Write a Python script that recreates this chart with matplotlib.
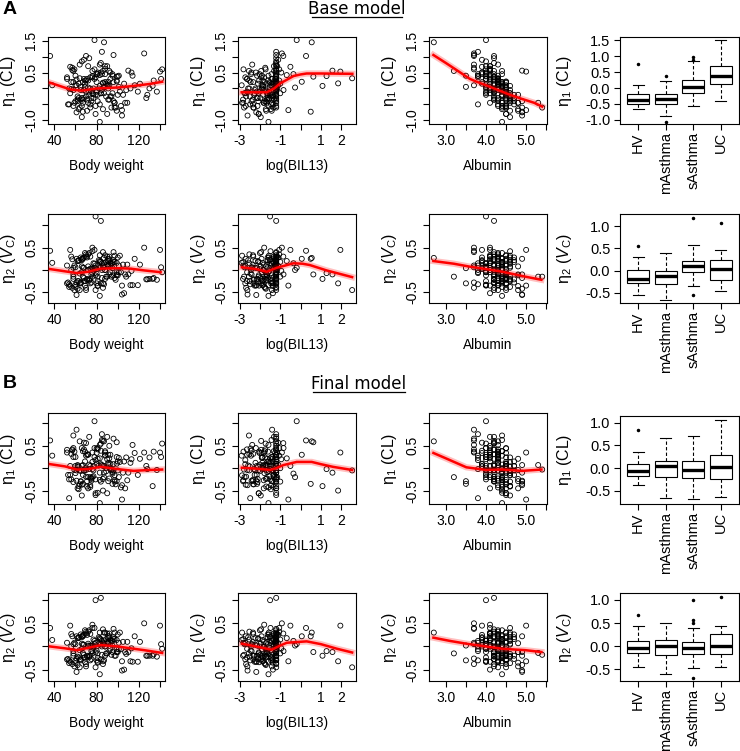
import numpy as np
import matplotlib
matplotlib.use("Agg")
import matplotlib.pyplot as plt
from matplotlib.lines import Line2D

plt.rcParams['font.family'] = ['Liberation Sans', 'DejaVu Sans']
plt.rcParams['mathtext.fontset'] = 'custom'
plt.rcParams['mathtext.rm'] = 'Liberation Sans'
plt.rcParams['mathtext.it'] = 'Liberation Sans:italic'
plt.rcParams['axes.unicode_minus'] = False

# ---- subject covariates (one entry per subject) ----
bw = [125, 70, 78, 36, 87, 55, 95, 110, 140, 64,
      58, 83, 104, 72, 91, 67, 99, 133, 76, 86,
      85, 66, 92, 74, 58, 101, 80, 63, 88, 70,
      96, 72, 81, 61, 90, 54, 77, 107, 68, 84,
      73, 88, 60, 99, 83, 65, 94, 79, 52, 113,
      84, 57, 100, 69, 87, 75, 62, 97, 91, 78,
      64, 93, 71, 86, 56, 105, 81, 74, 89, 67,
      38, 71, 59, 84, 66, 93, 104, 77, 62, 88,
      75, 56, 98, 68, 81, 127, 63, 90, 73, 52,
      79, 69, 109, 57, 86, 95, 134, 65, 101, 74,
      61, 89, 76, 97, 70, 83, 58, 112, 66, 141,
      94, 72, 128, 80, 60, 87, 99, 67, 83, 137,
      79, 54, 91, 68, 142, 76, 106, 63, 85, 96,
      70, 84, 61, 116, 92, 78, 53, 102, 88, 66,
      82, 64, 95, 73, 121, 59, 90, 77, 108, 69,
      97, 80, 55, 86, 71, 93, 65, 103, 76, 119,
      68, 91, 79, 60, 100, 85, 74, 96, 62, 130,
      87, 58, 83, 75, 99, 67, 92, 81, 114, 72]

lbil = [-0.92, -0.85, -0.19, 0.27, 0.55, -0.5, -0.35, 1.57, 1.96, 2.54,
        -0.84, -0.68, -0.6, -0.27, 0.06, 0.5, 0.63, 1.08, 1.28, 1.85,
        -1.2, -1.2, -1.2, -1.2, -1.2, -1.2, -1.2, -1.2, -1.15, -1.05,
        -1.2, -1.2, -1.2, -1.2, -1.2, -1.2, -1.2, -1.2, -1.1, -1.0,
        -1.2, -1.2, -1.2, -1.2, -1.2, -1.2, -1.2, -1.2, -1.25, -0.95,
        -1.2, -1.2, -1.2, -1.2, -1.2, -1.2, -1.2, -1.2, -1.1, -1.05,
        -1.2, -1.2, -1.2, -1.2, -1.2, -1.2, -1.2, -1.15, -1.0, -1.3,
        -2.9, -2.83, -2.81, -2.72, -2.7, -2.63, -2.61, -2.52, -2.5, -2.44,
        -2.41, -2.33, -2.31, -2.24, -2.2, -2.16, -2.09, -2.06, -2.0, -1.94,
        -1.5, -1.86, -1.81, -1.74, -1.71, -1.64, -1.6, -1.56, -1.9, -1.45,
        -1.4, -1.35, -1.3, -2.88, -2.62, -2.38, -2.12, -1.88, -1.62, -1.38,
        -2.78, -2.52, -2.28, -2.02, -1.78, -1.52, -1.42, -1.32, -1.58, -1.68,
        -2.72, -2.48, -2.22, -1.98, -1.72, -1.48, -1.36, -1.46, -1.82, -2.08,
        -2.68, -2.42, -2.18, -1.92, -1.66, -1.44, -1.34, -1.56, -1.76, -1.96,
        -2.58, -2.32, -2.14, -1.86, -1.64, -1.41, -1.31, -1.54, -1.74, -2.04,
        -2.82, -2.46, -2.26, -1.94, -1.69, -1.47, -1.39, -1.58, -1.79, -2.16,
        -2.64, -2.36, -2.06, -1.84, -1.62, -1.43, -1.33, -1.51, -1.71, -1.91,
        -2.76, -2.54, -2.34, -2.11, -1.87, -1.67, -1.49, -1.37, -1.58, -1.81]

alb = [3.7, 4.2, 4.0, 3.7, 2.7, 3.9, 4.0, 4.9, 5.0, 4.3,
       4.5, 4.1, 5.0, 4.4, 4.3, 4.9, 4.2, 4.6, 3.8, 4.4,
       3.8, 4.0, 4.1, 4.2, 4.3, 4.4, 4.5, 4.6, 4.1, 4.3,
       3.7, 4.0, 4.2, 4.2, 4.3, 4.4, 4.5, 4.8, 3.9, 4.6,
       4.2, 4.1, 4.0, 4.5, 4.4, 4.2, 4.6, 4.5, 4.3, 4.0,
       4.2, 4.1, 4.0, 4.3, 4.5, 4.4, 4.5, 4.9, 4.2, 4.1,
       4.3, 3.9, 4.3, 4.5, 4.2, 4.5, 4.4, 4.1, 4.4, 4.6,
       4.4, 4.2, 3.7, 4.5, 4.4, 4.1, 4.9, 4.0, 4.6, 3.8,
       4.3, 4.3, 4.5, 4.1, 4.0, 4.7, 3.9, 4.5, 4.4, 4.2,
       4.0, 4.0, 4.4, 3.7, 4.8, 4.2, 4.3, 4.6, 3.8, 4.3,
       3.7, 4.4, 3.2, 4.6, 4.2, 3.7, 4.5, 4.3, 4.7, 4.0,
       5.4, 4.2, 4.4, 3.9, 4.6, 4.1, 4.8, 4.4, 4.4, 4.2,
       3.8, 3.8, 4.3, 4.5, 4.0, 4.6, 4.1, 4.4, 4.3, 4.7,
       4.2, 3.9, 4.9, 4.5, 4.3, 4.0, 4.7, 4.5, 4.4, 4.6,
       4.2, 4.5, 3.5, 4.4, 4.2, 4.8, 4.1, 4.3, 4.6, 4.3,
       4.4, 4.5, 4.1, 4.2, 4.6, 4.5, 3.5, 4.3, 4.1, 4.0,
       4.3, 4.2, 4.5, 4.0, 4.7, 4.4, 4.4, 3.9, 4.9, 4.5,
       4.0, 4.4, 4.5, 4.2, 4.1, 5.3, 4.3, 4.8, 4.3, 4.1]

# ---- random effects, base and final model ----
eta1_base = [1.10, 1.02, 1.52, 1.02, 1.45, 0.68, 0.45, 0.56, 0.53, 0.32,
             -0.05, 0.42, -0.68, 0.03, 0.21, -0.73, 0.37, 0.08, 0.39, 0.16,
             1.15, 0.85, 0.55, 0.35, 0.2, 0.05, -0.1, -0.3, 0.7, 0.25,
             1.05, 0.7, 0.45, 0.28, 0.12, 0.0, -0.18, -0.45, 0.9, -0.15,
             0.95, 0.62, 0.4, 0.22, 0.08, -0.05, -0.25, -0.55, 0.3, 0.5,
             0.8, 0.58, 0.38, 0.15, 0.03, -0.08, -0.35, -0.6, 0.1, 0.6,
             0.75, 0.5, 0.3, 0.18, -0.02, -0.2, -0.4, 0.0, 0.15, -0.35,
             0.1, -0.35, 0.6, -0.15, -0.55, 0.3, -0.85, 0.0, -0.25, 0.45,
             -0.4, 0.2, -0.6, -0.05, 0.5, -0.3, 0.15, -0.8, -0.1, 0.35,
             -0.2, 0.05, -0.45, 0.65, -0.65, -0.15, 0.25, -0.35, 0.4, -0.5,
             0.1, -0.25, 0.55, -0.45, -0.1, 0.75, -0.55, 0.0, -0.3, 0.3,
             -0.6, 0.25, -0.2, 0.45, -0.4, 0.05, -0.7, 0.2, -1.05, -0.1,
             0.35, -0.5, 0.0, -0.3, 0.6, -0.15, 0.15, -0.65, -0.05, -0.4,
             -0.25, 0.5, -0.75, 0.1, -0.35, 0.3, -0.5, -0.1, 0.2, -0.9,
             0.0, -0.6, 0.4, -0.2, 0.15, -0.45, 0.7, -0.3, -0.05, 0.25,
             -0.45, 0.2, -0.15, 0.55, -0.7, -0.25, 0.05, -0.55, 0.35, -0.1,
             0.3, -0.35, -0.8, 0.1, -0.2, 0.45, -0.6, 0.2, -0.4, 0.0,
             -0.15, 0.55, -0.5, -0.3, 0.25, -0.45, 0.1, -0.2, 0.4, -0.45]

eta2_base = [0.5, 0.3, 0.05, 0.43, 0.27, 0.45, 0.15, -0.1, 0.45, -0.45,
             -0.1, 0.2, -0.35, 0.0, 0.25, 0.25, -0.1, -0.2, -0.07, -0.3,
             0.15, -0.05, 0.3, -0.2, 0.05, 0.1, -0.3, 0.22, 0.0, 0.35,
             0.4, 0.08, -0.15, 0.25, 0.12, -0.38, 0.02, -0.1, 0.28, 0.18,
             -0.22, 0.33, 0.06, -0.05, 0.18, -0.28, 0.14, -0.45, 0.1, -0.02,
             1.1, 0.24, -0.12, 0.38, -0.32, 0.03, 0.2, -0.18, 0.09, 0.45,
             -0.08, 0.16, 0.28, -0.4, 0.0, 0.12, -0.25, 0.3, -0.15, 0.05,
             0.16, -0.2, 0.1, -0.3, 0.25, -0.05, -0.55, 0.15, -0.25, 0.0,
             -0.1, 0.3, -0.22, 0.05, -0.35, -0.21, 0.2, -0.15, 0.38, -0.3,
             1.2, -0.25, 0.12, -0.4, 0.08, -0.12, -0.18, 0.28, -0.05, -0.3,
             -0.28, 0.18, -0.15, 0.32, -0.45, 0.06, -0.2, -0.34, 0.22, 0.06,
             -0.15, 0.35, -0.21, 0.02, -0.38, 0.15, -0.12, 0.26, -0.58, -0.22,
             0.1, -0.32, 0.2, -0.18, -0.05, 0.42, -0.52, -0.25, 0.0, 0.18,
             -0.4, 0.05, -0.56, 0.25, -0.1, 0.14, -0.28, 0.32, -0.2, 0.08,
             0.22, -0.3, 0.04, -0.24, 0.12, -0.45, 0.3, -0.02, -0.15, -0.35,
             0.18, -0.08, -0.35, 0.4, -0.22, 0.1, -0.3, -0.05, 0.5, -0.34,
             -0.25, 0.12, -0.12, -0.33, 0.28, -0.18, 0.03, 0.22, -0.42, -0.2,
             0.06, -0.15, 0.33, -0.28, 0.16, -0.15, 0.24, -0.36, -0.34, 0.0]

eta1_final = [0.35, 0.56, 1.05, 0.62, 0.6, 0.05, -0.12, -0.1, 0.35, -0.05,
              0.45, 0.22, -0.7, -0.2, 0.3, -0.35, 0.58, -0.4, -0.02, -0.5,
              0.76, 0.45, 0.5, 0.05, 0.25, -0.2, 0.1, -0.4, 0.35, 0.28,
              0.66, 0.3, 0.42, -0.05, 0.2, -0.25, 0.05, -0.45, 0.57, -0.3,
              0.7, 0.3, 0.25, 0.1, -0.1, -0.3, -0.05, -0.6, 0.35, 0.2,
              0.55, 0.4, -0.05, 0.15, -0.1, -0.22, -0.45, -0.3, 0.08, 0.45,
              0.6, 0.1, 0.3, 0.05, -0.25, -0.1, -0.55, -0.2, 0.0, -0.15,
              0.28, -0.29, 0.37, 0.09, -0.37, 0.3, -0.38, -0.05, 0.04, 0.28,
              -0.28, 0.32, -0.36, -0.05, 0.45, 0.05, 0.04, -0.56, 0.08, 0.41,
              -0.25, 0.0, -0.27, 0.42, -0.24, -0.09, 0.37, -0.06, 0.23, -0.38,
              0.86, -0.07, -0.2, -0.16, -0.04, 0.52, -0.31, 0.12, 0.05, 0.25,
              -0.03, 0.31, -0.02, 0.34, -0.11, 0.05, -0.29, 0.38, -0.78, -0.04,
              0.18, -0.67, 0.12, -0.06, 0.55, 0.14, 0.15, -0.47, 0.07, -0.05,
              -0.19, 0.39, -0.28, 0.34, -0.23, 0.25, -0.15, 0.14, 0.38, -0.61,
              0.06, -0.36, -0.35, -0.02, 0.21, -0.04, 0.7, -0.18, 0.24, 0.37,
              -0.27, 0.44, -0.15, 0.61, -0.41, -0.01, -0.29, -0.43, 0.35, -0.15,
              0.42, -0.29, -0.56, 0.05, 0.15, 0.63, -0.42, 0.09, 0.07, 0.24,
              -0.2, 0.73, -0.26, -0.24, 0.25, 0.07, 0.22, 0.21, 0.52, -0.45]

eta2_final = [0.5, 0.28, 0.05, 0.4, 0.3, 0.45, 0.12, -0.12, 0.45, -0.45,
              -0.1, 0.18, -0.32, 0.02, 0.22, 0.22, -0.12, -0.2, -0.1, -0.32,
              0.12, -0.05, 0.28, -0.2, 0.05, 0.08, -0.3, 0.2, 0.0, 0.32,
              0.38, 0.06, -0.15, 0.22, 0.1, -0.36, 0.0, -0.12, 0.25, 0.15,
              -0.2, 0.3, 0.05, -0.06, 0.16, -0.28, 0.12, -0.45, 0.08, -0.04,
              1.05, 0.22, -0.12, 0.35, -0.3, 0.02, 0.18, -0.2, 0.07, 0.4,
              -0.08, 0.14, 0.25, -0.38, 0.0, 0.1, -0.25, 0.27, -0.15, 0.04,
              0.14, -0.2, 0.08, -0.28, 0.22, -0.05, -0.52, 0.15, -0.22, 0.0,
              -0.1, 0.27, -0.2, 0.04, -0.33, -0.2, 0.18, -0.15, 0.35, -0.28,
              1.0, -0.24, 0.1, -0.38, 0.07, -0.12, -0.17, 0.26, -0.06, -0.3,
              -0.26, 0.16, -0.15, 0.3, -0.43, 0.05, -0.2, -0.32, 0.2, 0.05,
              -0.18, 0.32, -0.2, 0.0, -0.36, 0.13, -0.12, 0.24, -0.6, -0.22,
              0.08, -0.3, 0.18, -0.18, -0.05, 0.4, -0.5, -0.24, 0.0, 0.16,
              -0.38, 0.04, -0.55, 0.22, -0.1, 0.12, -0.27, 0.3, -0.2, 0.06,
              0.2, -0.28, 0.02, -0.23, 0.1, -0.43, 0.28, -0.03, -0.16, -0.34,
              0.16, -0.09, -0.33, 0.37, -0.22, 0.08, -0.3, -0.06, 0.47, -0.33,
              -0.24, 0.1, -0.13, -0.31, 0.26, -0.18, 0.02, 0.2, -0.4, -0.2,
              0.05, -0.15, 0.3, -0.27, 0.14, -0.14, 0.22, -0.35, -0.33, 0.0]

# ---- smoother lines (rows: eta1 base, eta2 base, eta1 final, eta2 final) ----
fit_bw_x = [[36, 45, 55, 66, 80, 100, 115, 130, 142],
            [36, 50, 61.5, 72, 84, 100, 112, 125, 140.5],
            [36, 50, 61.5, 72, 84, 100, 115, 130, 142],
            [36, 50, 61.5, 72, 84, 100, 109, 125, 142]]
fit_bw_y = [[0.18, 0.08, -0.03, -0.07, 0.0, 0.03, 0.08, 0.14, 0.21],
            [0.02, -0.03, -0.07, -0.04, 0.03, 0.04, 0.03, -0.01, -0.05],
            [0.09, 0.04, -0.03, -0.02, 0.03, -0.02, -0.06, -0.04, -0.03],
            [0.0, -0.04, -0.08, -0.03, 0.03, 0.0, -0.03, -0.08, -0.14]]
fit_bil_x = [[-2.9, -2.2, -1.66, -1.3, -1.0, -0.6, -0.35, 0.0, 0.3, 1.0, 2.55],
             [-2.89, -2.2, -1.66, -1.17, -0.75, -0.35, 0.1, 0.46, 1.28, 2.54],
             [-2.89, -2.2, -1.5, -1.2, -0.84, -0.19, 0.55, 1.0, 1.6, 2.54],
             [-2.89, -2.2, -1.42, -1.0, -0.68, 0.3, 1.0, 1.8, 2.54]]
fit_bil_y = [[-0.12, -0.12, -0.12, 0.0, 0.16, 0.3, 0.39, 0.44, 0.47, 0.47, 0.46],
             [0.06, 0.02, -0.04, 0.05, 0.1, 0.15, 0.14, 0.11, -0.01, -0.16],
             [0.01, -0.01, -0.04, 0.0, 0.07, 0.14, 0.14, 0.09, 0.03, -0.04],
             [0.06, 0.0, -0.07, 0.02, 0.08, 0.11, 0.05, -0.05, -0.13]]
fit_alb_x = [[2.69, 3.0, 3.3, 3.6, 3.75, 4.0, 4.3, 4.6, 4.9, 5.2, 5.4],
             [2.69, 3.2, 3.59, 4.0, 4.41, 4.98, 5.38],
             [2.69, 3.0, 3.51, 4.0, 4.41, 4.9, 5.38],
             [2.69, 3.1, 3.51, 4.0, 4.41, 4.98, 5.38]]
fit_alb_y = [[1.05, 0.8, 0.55, 0.3, 0.22, 0.1, -0.05, -0.2, -0.33, -0.45, -0.57],
             [0.2, 0.14, 0.075, 0.02, -0.04, -0.15, -0.22],
             [0.34, 0.22, 0.02, -0.04, -0.03, -0.06, -0.03],
             [0.19, 0.12, 0.06, 0.0, -0.05, -0.08, -0.12]]

# ---- boxplot summaries by population ----
groups = ['HV', 'mAsthma', 'sAsthma', 'UC']
box_lo = [[-0.65, -0.87, -0.55, -0.39], [-0.55, -0.65, -0.34, -0.46],
          [-0.375, -0.65, -0.69, -0.63], [-0.44, -0.6, -0.48, -0.455]]
box_q1 = [[-0.5, -0.5, -0.16, 0.14], [-0.275, -0.31, -0.04, -0.2],
          [-0.18, -0.19, -0.21, -0.235], [-0.15, -0.19, -0.17, -0.175]]
box_med = [[-0.38, -0.33, 0.03, 0.38], [-0.18, -0.125, 0.1, 0.03],
           [-0.06, 0.05, -0.05, 0.03], [-0.04, 0.0, -0.03, 0.005]]
box_q3 = [[-0.17, -0.19, 0.24, 0.7], [0.01, -0.005, 0.22, 0.25],
          [0.09, 0.16, 0.16, 0.29], [0.12, 0.135, 0.1, 0.265]]
box_hi = [[0.1, 0.22, 0.84, 1.5], [0.31, 0.385, 0.57, 0.46],
          [0.35, 0.655, 0.71, 1.07], [0.44, 0.495, 0.39, 0.445]]
box_out = [[[0.75], [0.38, -1.08], [0.97, 0.9], []],
           [[0.55], [], [1.19, -0.55], [1.06]],
           [[0.85], [], [], []],
           [[0.68], [], [0.57, 0.5, 1.0, -0.69], [1.07]]]

# ---- layout (pixels) ----
W, H = 740, 751
fig = plt.figure(figsize=(W / 100, H / 100), dpi=100)


def add_ax(l, t, r, b):
    return fig.add_axes([l / W, 1 - b / H, (r - l) / W, (b - t) / H])


def r_style(ax, size):
    for s in ax.spines.values():
        s.set_linewidth(0.8)
    ax.tick_params(direction='out', length=4, width=0.8, labelsize=size, pad=3)


covs = [bw, lbil, alb]
etas = [eta1_base, eta2_base, eta1_final, eta2_final]
fits_x = [fit_bw_x, fit_bil_x, fit_alb_x]
fits_y = [fit_bw_y, fit_bil_y, fit_alb_y]

col_px = [(48, 165), (238, 356), (429, 547)]
box_px = (620, 739)
row_px = [(37, 124), (214, 303), (413, 504), (593, 681)]
box_row_px = [(37, 124), (214, 303), (416, 504), (593, 681)]

xlims = [(34, 144.7), (-3.08, 2.73), (2.58, 5.52)]
xticks = [[40, 60, 80, 100, 120, 140], [-3, -2, -1, 0, 1, 2], [3.0, 3.5, 4.0, 4.5, 5.0, 5.5]]
xtl = [['40', '', '80', '', '120', ''], ['-3', '', '-1', '', '1', '2'],
       ['3.0', '', '4.0', '', '5.0', '']]
xlabels = ['Body weight', 'log(BIL13)', 'Albumin']

ylims_sc = [(-1.116, 1.616), (-0.74, 1.254), (-0.8, 1.233), (-0.746, 1.155)]
ylims_box = [(-1.13, 1.61), (-0.725, 1.27), (-0.79, 1.15), (-0.75, 1.15)]
yt_sc = [[-1.0, -0.5, 0, 0.5, 1.0, 1.5], [-0.5, 0, 0.5, 1.0], [-0.5, 0, 0.5, 1.0], [-0.5, 0, 0.5, 1.0]]
ytl_sc = [['-1.0', '', '', '0.5', '', '1.5'], ['-0.5', '', '0.5', ''],
          ['-0.5', '', '0.5', ''], ['-0.5', '', '0.5', '']]
ytl_box = [['-1.0', '-0.5', '0.0', '0.5', '1.0', '1.5'], ['-0.5', '0.0', '0.5', '1.0'],
           ['-0.5', '0.0', '0.5', '1.0'], ['-0.5', '0.0', '0.5', '1.0']]
ylabels = ['η$_1$ (CL)', 'η$_2$ ($V_\\mathrm{C}$)', 'η$_1$ (CL)', 'η$_2$ ($V_\\mathrm{C}$)']

for r in range(4):
    t, b = row_px[r]
    for c in range(3):
        l, rr = col_px[c]
        ax = add_ax(l, t, rr, b)
        ax.scatter(covs[c], etas[r], s=13, facecolors='none', edgecolors='black',
                   linewidths=0.6, zorder=2)
        ax.plot(fits_x[c][r], fits_y[c][r], color=(1, 0, 0, 0.25), lw=4.5, zorder=3)
        ax.plot(fits_x[c][r], fits_y[c][r], color='red', lw=1.8, zorder=4)
        ax.set_xlim(*xlims[c])
        ax.set_ylim(*ylims_sc[r])
        ax.set_xticks(xticks[c])
        ax.set_xticklabels(xtl[c])
        ax.set_yticks(yt_sc[r])
        ax.set_yticklabels(ytl_sc[r], rotation=90, va='center')
        r_style(ax, 10)
        ax.set_xlabel(xlabels[c], fontsize=9.8, labelpad=8)
        ax.set_ylabel(ylabels[r], fontsize=11.5)
        ax.yaxis.set_label_coords(-30 / (rr - l), 0.5)

    # boxplot column
    t, b = box_row_px[r]
    l, rr = box_px
    ax = add_ax(l, t, rr, b)
    stats = []
    for g in range(4):
        stats.append(dict(whislo=box_lo[r][g], q1=box_q1[r][g], med=box_med[r][g],
                          q3=box_q3[r][g], whishi=box_hi[r][g], fliers=box_out[r][g]))
    ax.bxp(stats, positions=[1, 2, 3, 4], widths=0.8, capwidths=0.4, patch_artist=True,
           boxprops=dict(facecolor='white', edgecolor='black', linewidth=0.8),
           medianprops=dict(color='black', linewidth=2.4, solid_capstyle='butt'),
           whiskerprops=dict(color='black', linewidth=0.8, linestyle=(0, (3, 2))),
           capprops=dict(color='black', linewidth=0.8),
           flierprops=dict(marker='o', markersize=1.5, markerfacecolor='black',
                           markeredgecolor='black'),
           manage_ticks=False)
    ax.set_xlim(0.34, 4.66)
    ax.set_ylim(*ylims_box[r])
    ax.set_xticks([1, 2, 3, 4])
    ax.set_xticklabels(groups, rotation=90)
    ax.set_yticks([float(s) for s in ytl_box[r]])
    ax.set_yticklabels(ytl_box[r])
    r_style(ax, 10.5)
    ax.tick_params(axis='x', labelsize=10.5, pad=2)
    ax.set_ylabel(ylabels[r], fontsize=11.5)
    ax.yaxis.set_label_coords(-46 / (rr - l), 0.5)

# panel letters and section titles
fig.text(3 / W, 1 - 10 / H, 'A', fontsize=14, fontweight='bold', va='center', ha='left')
fig.text(3 / W, 1 - 384 / H, 'B', fontsize=14, fontweight='bold', va='center', ha='left')
fig.text(357 / W, 1 - 9 / H, 'Base model', fontsize=12, family='DejaVu Sans',
         ha='center', va='center')
fig.text(359 / W, 1 - 384 / H, 'Final model', fontsize=12, family='DejaVu Sans',
         ha='center', va='center')
fig.add_artist(Line2D([312 / W, 402 / W], [1 - 17 / H, 1 - 17 / H], color='black', lw=0.9))
fig.add_artist(Line2D([313 / W, 405 / W], [1 - 392 / H, 1 - 392 / H], color='black', lw=0.9))

fig.savefig('out.png', dpi=100)
